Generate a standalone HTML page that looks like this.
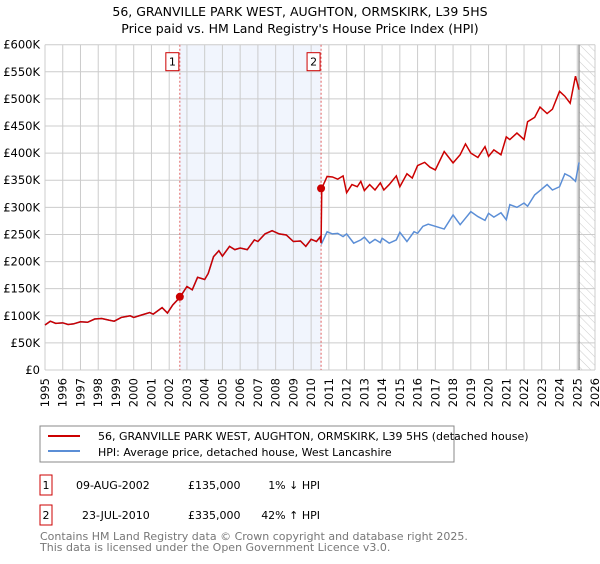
<!DOCTYPE html>
<html><head><meta charset="utf-8"><style>
body{margin:0;background:#fff;font-family:"DejaVu Sans","Liberation Sans",sans-serif;}
svg text{font-family:"DejaVu Sans","Liberation Sans",sans-serif;}
</style></head><body>
<svg id="c" width="600" height="560" viewBox="0 0 600 560" xmlns="http://www.w3.org/2000/svg">
<defs><pattern id="hatch" width="6" height="6" patternUnits="userSpaceOnUse" patternTransform="rotate(-45)"><line x1="0" y1="0" x2="0" y2="6" stroke="#ccc" stroke-width="1"/></pattern></defs>
<text x="300" y="16" text-anchor="middle" font-size="12.5">56, GRANVILLE PARK WEST, AUGHTON, ORMSKIRK, L39 5HS</text>
<text x="300" y="33" text-anchor="middle" font-size="12.5">Price paid vs. HM Land Registry's House Price Index (HPI)</text>
<g id="plot"></g>
<rect x="40" y="426" width="414" height="36" fill="#fff" stroke="#888"/>
<line x1="48" y1="436" x2="80" y2="436" stroke="#cc0000" stroke-width="2"/>
<text x="98" y="440" font-size="11">56, GRANVILLE PARK WEST, AUGHTON, ORMSKIRK, L39 5HS (detached house)</text>
<line x1="48" y1="451" x2="80" y2="451" stroke="#5b8ed6" stroke-width="2"/>
<text x="98" y="456" font-size="11">HPI: Average price, detached house, West Lancashire</text>
<g font-size="11">
<rect x="40" y="475" width="12" height="20" fill="#fff" stroke="#cc0000"/>
<text x="46" y="489" text-anchor="middle">1</text>
<text x="76" y="489">09-AUG-2002</text>
<text x="188" y="489">£135,000</text>
<text x="320" y="489" text-anchor="end">1% ↓ HPI</text>
<rect x="40" y="505" width="12" height="20" fill="#fff" stroke="#cc0000"/>
<text x="46" y="519" text-anchor="middle">2</text>
<text x="82" y="519">23-JUL-2010</text>
<text x="188" y="519">£335,000</text>
<text x="320" y="519" text-anchor="end">42% ↑ HPI</text>
</g>
<text x="40" y="540" font-size="11" fill="#777">Contains HM Land Registry data © Crown copyright and database right 2025.</text>
<text x="40" y="551" font-size="11" fill="#777">This data is licensed under the Open Government Licence v3.0.</text>
</svg>
<script>
const hpiYears=[1995.0,1995.3,1995.6,1996.0,1996.3,1996.6,1997.0,1997.4,1997.8,1998.2,1998.6,1998.9,1999.3,1999.8,2000.0,2000.4,2000.9,2001.1,2001.6,2001.9,2002.2,2002.6,2003.0,2003.3,2003.6,2004.0,2004.2,2004.5,2004.8,2005.0,2005.4,2005.7,2006.0,2006.4,2006.8,2007.0,2007.4,2007.8,2008.2,2008.6,2009.0,2009.4,2009.7,2010.0,2010.3,2010.5,2010.6,2010.9,2011.2,2011.5,2011.8,2012.0,2012.4,2012.8,2013.0,2013.3,2013.6,2013.9,2014.0,2014.4,2014.8,2015.0,2015.4,2015.8,2016.0,2016.3,2016.6,2017.0,2017.5,2018.0,2018.4,2018.7,2019.0,2019.4,2019.8,2020.0,2020.3,2020.7,2021.0,2021.2,2021.6,2022.0,2022.2,2022.6,2022.9,2023.3,2023.6,2024.0,2024.3,2024.6,2024.9,2025.1];
const hpiValues=[83,90,86,87,84,85,89,88,94,95,92,90,97,100,97,101,106,103,115,105,120,134,154,148,171,167,178,209,220,210,228,222,225,222,240,237,251,257,251,249,237,238,228,241,237,245,234,255,251,252,246,251,234,240,245,234,241,235,243,234,240,254,237,255,252,265,269,265,260,286,268,280,292,283,276,289,282,290,277,305,300,308,302,323,331,342,332,338,362,357,348,383,366];
const priceYears=[1995.0,1995.3,1995.6,1996.0,1996.3,1996.6,1997.0,1997.4,1997.8,1998.2,1998.6,1998.9,1999.3,1999.8,2000.0,2000.4,2000.9,2001.1,2001.6,2001.9,2002.2,2002.6,2003.0,2003.3,2003.6,2004.0,2004.2,2004.5,2004.8,2005.0,2005.4,2005.7,2006.0,2006.4,2006.8,2007.0,2007.4,2007.8,2008.2,2008.6,2009.0,2009.4,2009.7,2010.0,2010.3,2010.5,2010.56,2010.6,2010.9,2011.2,2011.5,2011.8,2012.0,2012.3,2012.6,2012.8,2013.0,2013.3,2013.6,2013.9,2014.1,2014.4,2014.8,2015.0,2015.4,2015.7,2016.0,2016.4,2016.7,2017.0,2017.5,2018.0,2018.4,2018.7,2019.0,2019.4,2019.8,2020.0,2020.3,2020.7,2021.0,2021.2,2021.6,2022.0,2022.2,2022.6,2022.9,2023.3,2023.6,2024.0,2024.3,2024.6,2024.9,2025.1];
const priceValues=[83,90,86,87,84,85,89,88,94,95,92,90,97,100,97,101,106,103,115,105,120,134,154,148,171,167,178,209,220,210,228,222,225,222,240,237,251,257,251,249,237,238,228,241,237,245,234,335,357,356,352,358,327,342,338,348,331,342,332,345,332,342,358,338,362,354,377,383,374,369,403,382,397,417,400,392,412,394,406,397,430,425,437,425,458,466,485,473,481,514,505,492,542,517];
const sales=[{year:2002.6,value:135,label:"1"},{year:2010.56,value:335,label:"2"}];
const yTicks=[0,50,100,150,200,250,300,350,400,450,500,550,600];
const yLabels=["£0","£50K","£100K","£150K","£200K","£250K","£300K","£350K","£400K","£450K","£500K","£550K","£600K"];
const xTicks=[1995,1996,1997,1998,1999,2000,2001,2002,2003,2004,2005,2006,2007,2008,2009,2010,2011,2012,2013,2014,2015,2016,2017,2018,2019,2020,2021,2022,2023,2024,2025,2026];

const L=45,R=595,T=44.7,B=370;
const X=y=>L+(y-1995)/(2026-1995)*(R-L);
const Y=v=>B-v/600*(B-T);
const NS="http://www.w3.org/2000/svg";
const g=document.getElementById('plot');
function mk(t,a,p){const e=document.createElementNS(NS,t);for(const k in a)e.setAttribute(k,a[k]);(p||g).appendChild(e);return e;}

let e=mk('rect',{x:L,y:T,width:R-L,height:B-T,fill:'#fff'});


e=mk('rect',{x:X(sales[0].year),y:T,width:X(sales[1].year)-X(sales[0].year),height:B-T,fill:'#eef2fc',opacity:0.8});


e=mk('rect',{x:X(2025.1),y:T,width:R-X(2025.1),height:B-T,fill:'url(#hatch)'});


xTicks.forEach(t=>{
  const l=mk('line',{x1:X(t),x2:X(t),y1:T,y2:B,stroke:'#ccc','stroke-width':1});
  
  
  const tx=mk('text',{x:0,y:0,'font-size':11.5,'text-anchor':'end',transform:`translate(${X(t)+4},${B+8}) rotate(-90)`});
  tx.textContent=t;
  
  
});
yTicks.forEach((t,i)=>{
  const l=mk('line',{x1:L,x2:R,y1:Y(t),y2:Y(t),stroke:'#ccc','stroke-width':1});
  
  
  const tx=mk('text',{x:40,y:Y(t)+4,'font-size':11.5,'text-anchor':'end'});
  tx.textContent=yLabels[i];
  
  
});
e=mk('line',{x1:X(2025.1),x2:X(2025.1),y1:T,y2:B,stroke:'#888','stroke-width':1.2});


sales.forEach(s=>{
  const l=mk('line',{x1:X(s.year),x2:X(s.year),y1:T,y2:B,stroke:'#e06060','stroke-width':1,'stroke-dasharray':'2,2'});
  
  
  const r=mk('rect',{x:X(s.year)-14,y:T+8,width:13,height:18,fill:'#fff',stroke:'#cc0000'});
  
  
  const t=mk('text',{x:X(s.year)-7.5,y:T+21,'font-size':11,'text-anchor':'middle'});
  t.textContent=s.label;
  
  
});
e=mk('polyline',{points:hpiYears.map((y,i)=>X(y)+','+Y(hpiValues[i])).join(' '),fill:'none',stroke:'#5b8ed6','stroke-width':1.5});


e=mk('polyline',{points:priceYears.map((y,i)=>X(y)+','+Y(priceValues[i])).join(' '),fill:'none',stroke:'#cc0000','stroke-width':1.5});


sales.forEach(s=>{
  const c=mk('circle',{cx:X(s.year),cy:Y(s.value),r:4,fill:'#cc0000'});
  
  
});
</script>
</body></html>
